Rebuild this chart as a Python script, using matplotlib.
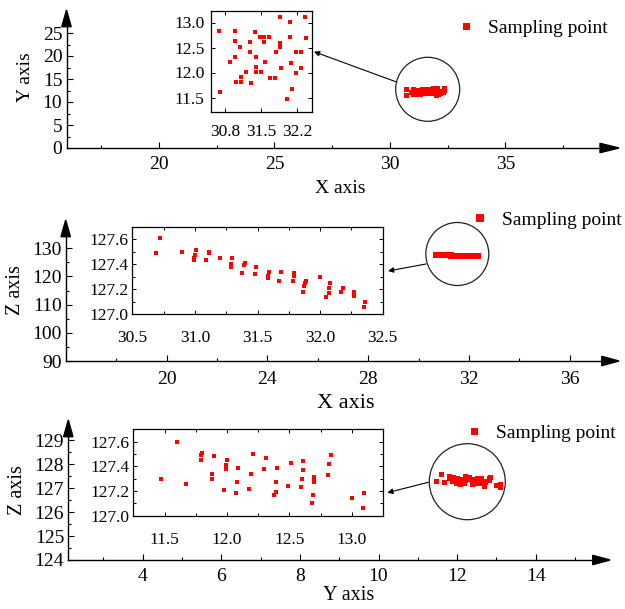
import numpy as np
import matplotlib
matplotlib.use("Agg")
import matplotlib.pyplot as plt
from matplotlib.ticker import MultipleLocator, FormatStrFormatter, FixedLocator
from matplotlib.patches import Polygon, Ellipse, FancyArrowPatch

plt.rcParams['font.family'] = ['Liberation Serif', 'DejaVu Serif']

# ---- data ----
# top panel inset : X / Y of the sampling points
top_x = [30.69, 30.71, 30.99, 30.99, 31.00, 30.90, 31.09, 31.01, 31.10, 31.10,
         31.20, 31.28, 31.28, 31.30, 31.38, 31.39, 31.40, 31.40, 31.48, 31.50,
         31.56, 31.56, 31.57, 31.66, 31.68, 31.77, 31.78, 31.86, 31.87, 31.87,
         31.89, 32.00, 32.06, 32.06, 32.07, 32.09, 32.17, 32.18, 32.27, 32.28,
         32.35, 32.36]
top_y = [12.84, 11.61, 12.83, 12.63, 12.32, 12.22, 12.52, 11.81, 11.91, 11.81,
         12.01, 12.62, 12.42, 11.80, 12.82, 12.32, 12.11, 12.01, 12.72, 12.01,
         12.72, 12.62, 12.21, 12.72, 11.89, 11.89, 12.41, 13.12, 12.60, 12.51,
         12.09, 11.48, 13.01, 12.71, 12.20, 11.68, 12.41, 11.99, 12.41, 12.09,
         13.11, 12.70]

# middle panel inset : X / Z
mid_x = [30.69, 30.72, 30.90, 30.99, 30.99, 31.00, 31.01, 31.09, 31.11, 31.11,
         31.20, 31.29, 31.29, 31.30, 31.38, 31.39, 31.40, 31.48, 31.49, 31.58,
         31.58, 31.59, 31.67, 31.69, 31.78, 31.79, 31.79, 31.86, 31.87, 31.88,
         31.89, 32.00, 32.05, 32.07, 32.07, 32.08, 32.17, 32.18, 32.27, 32.27,
         32.35, 32.36]
mid_z = [127.49, 127.61, 127.50, 127.43, 127.45, 127.47, 127.51, 127.43, 127.49, 127.50,
         127.45, 127.38, 127.40, 127.45, 127.33, 127.39, 127.41, 127.32, 127.38, 127.29,
         127.31, 127.34, 127.27, 127.34, 127.27, 127.31, 127.33, 127.18, 127.23, 127.25,
         127.27, 127.30, 127.14, 127.17, 127.21, 127.25, 127.18, 127.21, 127.15, 127.18,
         127.06, 127.10]

# bottom panel inset : Y / Z
bot_y = [11.47, 11.60, 11.67, 11.79, 11.79, 11.80, 11.88, 11.88, 11.90, 11.98,
         11.99, 11.99, 12.00, 12.07, 12.08, 12.09, 12.18, 12.19, 12.21, 12.31,
         12.30, 12.38, 12.39, 12.39, 12.40, 12.49, 12.51, 12.59, 12.60, 12.61,
         12.61, 12.68, 12.69, 12.70, 12.70, 12.70, 12.81, 12.82, 12.83, 13.00,
         13.09, 13.10]
bot_z = [127.30, 127.60, 127.26, 127.45, 127.49, 127.51, 127.30, 127.34, 127.48, 127.21,
         127.38, 127.41, 127.45, 127.18, 127.27, 127.39, 127.22, 127.34, 127.50, 127.47,
         127.38, 127.17, 127.19, 127.27, 127.39, 127.24, 127.43, 127.23, 127.30, 127.37,
         127.44, 127.10, 127.17, 127.27, 127.29, 127.31, 127.33, 127.42, 127.49, 127.14,
         127.06, 127.18]

W, H = 625, 609
fig = plt.figure(figsize=(W / 100, H / 100), dpi=100)


def rect(x0, y0, x1, y1):
    # pixel box (top-left origin) -> figure fractions
    return [x0 / W, 1 - y1 / H, (x1 - x0) / W, (y1 - y0) / H]


def fp(x, y):
    return (x / W, 1 - y / H)


def spine_arrows(ax, xbase, xtip, ybase, ytip, x0, y0):
    # filled arrow heads at the end of the two axis lines
    hw = 4.7
    fig.add_artist(Polygon([fp(xbase, y0 - hw), fp(xtip, y0), fp(xbase, y0 + hw)],
                           closed=True, color='black', transform=fig.transFigure))
    fig.add_artist(Polygon([fp(x0 - hw, ybase), fp(x0, ytip), fp(x0 + hw, ybase)],
                           closed=True, color='black', transform=fig.transFigure))


def style_main(ax):
    for s in ['top', 'right']:
        ax.spines[s].set_visible(False)
    for s in ['left', 'bottom']:
        ax.spines[s].set_linewidth(1.0)
    ax.tick_params(which='both', direction='in', labelsize=14, width=0.8)
    ax.tick_params(which='major', length=4)
    ax.tick_params(which='minor', length=2.5)
    ax.tick_params(axis='y', pad=3)
    ax.patch.set_alpha(0)


def style_inset(ax):
    for s in ax.spines.values():
        s.set_linewidth(0.9)
    ax.tick_params(which='both', direction='in', top=True, right=True,
                   labelsize=12.5, width=0.7)
    ax.tick_params(which='major', length=3)
    ax.tick_params(which='minor', length=2)
    ax.tick_params(axis='y', pad=3)


def circle(cx, cy, r):
    fig.add_artist(Ellipse(fp(cx, cy), 2 * r / W, 2 * r / H, fill=False, lw=0.9,
                           ec='#222222', transform=fig.transFigure))


def pointer(x0, y0, x1, y1):
    fig.add_artist(FancyArrowPatch(fp(x0, y0), fp(x1, y1), transform=fig.transFigure,
                                   arrowstyle='-|>', mutation_scale=8, lw=0.8,
                                   color='black', shrinkA=0, shrinkB=0))


def legend_at(ax, mx, my):
    ax.legend(loc='center left', bbox_to_anchor=fp(mx - 9.72, my),
              bbox_transform=fig.transFigure, frameon=False, fontsize=14,
              handlelength=1, handletextpad=0.65, borderpad=0, borderaxespad=0,
              markerscale=1.4, numpoints=1)


def label(ax, which, text, cx, cy, size):
    if which == 'x':
        ax.set_xlabel(text, fontsize=size, va='center')
        ax.xaxis.set_label_coords(*fp(cx, cy), transform=fig.transFigure)
    else:
        ax.set_ylabel(text, fontsize=size, va='center')
        ax.yaxis.set_label_coords(*fp(cx, cy), transform=fig.transFigure)


red = '#ff0000'

# ---------------- panel 1 : X-Y ----------------
ax1 = fig.add_axes(rect(66.5, 26.7, 600, 148))
ax1.plot(top_x, top_y, 's', color=red, ms=3.6, mew=0, label='Sampling point')
ax1.set_xlim(16, 16 + (600 - 66.5) / 23.1)
ax1.set_ylim(0, (148 - 26.7) / 4.6)
ax1.xaxis.set_major_locator(FixedLocator([20, 25, 30, 35]))
ax1.xaxis.set_minor_locator(FixedLocator([17.5, 22.5, 27.5, 32.5, 37.5]))
ax1.yaxis.set_major_locator(MultipleLocator(5))
ax1.yaxis.set_minor_locator(MultipleLocator(2.5))
style_main(ax1)
ax1.tick_params(axis='x', pad=6)
label(ax1, 'x', 'X axis', 340, 188, 14)
label(ax1, 'y', 'Y axis', 25, 77, 14)
spine_arrows(ax1, 600, 619, 26.7, 10, 66.5, 148)
legend_at(ax1, 466, 28)
circle(427.7, 89.3, 32)
pointer(395.7, 81.7, 314, 51.7)

in1 = fig.add_axes(rect(210.7, 11, 311.7, 112))
in1.plot(top_x, top_y, 's', color=red, ms=2.6, mew=0)
in1.set_xlim(30.52, 32.48)
in1.set_ylim(11.21, 13.23)
in1.xaxis.set_major_locator(FixedLocator([30.8, 31.5, 32.2]))
in1.yaxis.set_major_locator(MultipleLocator(0.5))
in1.yaxis.set_major_formatter(FormatStrFormatter('%.1f'))
style_inset(in1)
in1.tick_params(axis='x', pad=9)
in1.tick_params(axis='y', pad=4.5)

# ---------------- panel 2 : X-Z ----------------
ax2 = fig.add_axes(rect(65.7, 236.7, 601.7, 361))
ax2.plot(mid_x, mid_z, 's', color=red, ms=3.8, mew=0, label='Sampling point')
ax2.set_xlim(16, 16 + (601.7 - 65.7) / 25.2)
ax2.set_ylim(90, 90 + (361 - 236.7) / 2.82)
ax2.xaxis.set_major_locator(FixedLocator([20, 24, 28, 32, 36]))
ax2.xaxis.set_minor_locator(FixedLocator([18, 22, 26, 30, 34]))
ax2.yaxis.set_major_locator(MultipleLocator(10))
ax2.yaxis.set_minor_locator(MultipleLocator(5))
style_main(ax2)
ax2.tick_params(axis='x', pad=7.5)
label(ax2, 'x', 'X axis', 346, 403, 16)
label(ax2, 'y', 'Z axis', 16, 290, 14.5)
spine_arrows(ax2, 601.7, 619, 236.7, 220, 65.7, 361)
legend_at(ax2, 480, 220)
circle(457.3, 254, 31.5)
pointer(426, 264, 388, 271)

in2 = fig.add_axes(rect(132.3, 226.7, 382.7, 314.3))
in2.plot(mid_x, mid_z, 's', color=red, ms=2.6, mew=0)
in2.set_xlim(30.5, 32.5)
in2.set_ylim(127.0, 127.7)
in2.xaxis.set_major_locator(MultipleLocator(0.5))
in2.xaxis.set_minor_locator(MultipleLocator(0.25))
in2.yaxis.set_major_locator(MultipleLocator(0.2))
in2.yaxis.set_minor_locator(MultipleLocator(0.1))
in2.xaxis.set_major_formatter(FormatStrFormatter('%.1f'))
in2.yaxis.set_major_formatter(FormatStrFormatter('%.1f'))
style_inset(in2)
in2.tick_params(axis='x', pad=11)

# ---------------- panel 3 : Y-Z ----------------
ax3 = fig.add_axes(rect(68.3, 436.7, 592.7, 560))
ax3.plot(bot_y, bot_z, 's', color=red, ms=3.6, mew=0, label='Sampling point')
ax3.set_xlim(4 - (142.7 - 68.3) / 39.3, 4 + (592.7 - 142.7) / 39.3)
ax3.set_ylim(124, 124 + (560 - 436.7) / 23.9)
ax3.xaxis.set_major_locator(MultipleLocator(2))
ax3.xaxis.set_minor_locator(MultipleLocator(1))
ax3.yaxis.set_major_locator(MultipleLocator(1))
ax3.yaxis.set_minor_locator(MultipleLocator(0.5))
style_main(ax3)
ax3.tick_params(axis='x', pad=6)
label(ax3, 'x', 'Y axis', 349, 596, 14.5)
label(ax3, 'y', 'Z axis', 17.5, 490, 14.5)
spine_arrows(ax3, 592.7, 610, 436.7, 420, 68.3, 560)
legend_at(ax3, 474, 432.7)
circle(467.3, 481.7, 38)
pointer(428.3, 482.3, 387.3, 492.7)

in3 = fig.add_axes(rect(133.3, 429.3, 383, 515.7))
in3.plot(bot_y, bot_z, 's', color=red, ms=2.6, mew=0)
in3.set_xlim(11.25, 13.25)
in3.set_ylim(127.0, 127.7)
in3.xaxis.set_major_locator(MultipleLocator(0.5))
in3.xaxis.set_minor_locator(MultipleLocator(0.25))
in3.yaxis.set_major_locator(MultipleLocator(0.2))
in3.yaxis.set_minor_locator(MultipleLocator(0.1))
in3.xaxis.set_major_formatter(FormatStrFormatter('%.1f'))
in3.yaxis.set_major_formatter(FormatStrFormatter('%.1f'))
style_inset(in3)
in3.tick_params(axis='x', pad=12)

fig.savefig('out.png', dpi=100)
